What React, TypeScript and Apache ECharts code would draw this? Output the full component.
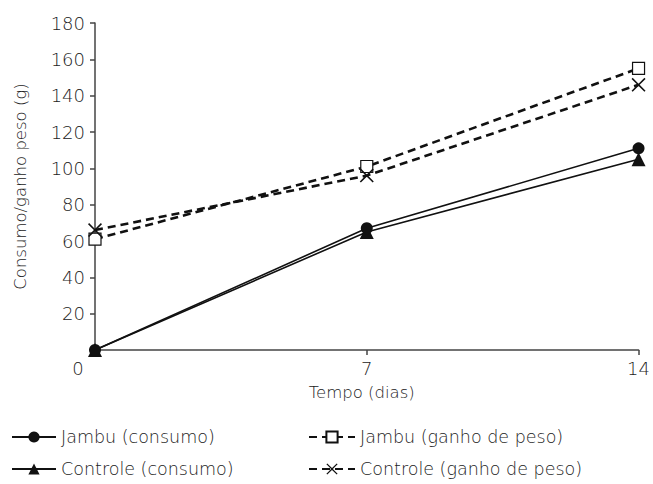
import React, { useEffect, useRef } from "react";
import * as echarts from "echarts";

const days = [0, 7, 14];
const jambuConsumo = [0, 67, 111];
const controleConsumo = [0, 65, 105];
const jambuGanho = [61, 101, 155];
const controleGanho = [66, 96, 146];
const seriesNames = [
  "Jambu (consumo)",
  "Controle (consumo)",
  "Jambu (ganho de peso)",
  "Controle (ganho de peso)",
];
const xTicks = [0, 7, 14];
const yTicks = [0, 20, 40, 60, 80, 100, 120, 140, 160, 180];

const FONT = "DejaVu Sans";
const W = 200;
const TXT = "#222";
const crossPath =
  "path://M0,0.8L0.8,0L5,4.2L9.2,0L10,0.8L5.8,5L10,9.2L9.2,10L5,5.8L0.8,10L0,9.2L4.2,5Z";

function pairs(vals: number[]) {
  return days.map((d, i) => [d, vals[i]]);
}

export default function App() {
  const ref = useRef<HTMLDivElement>(null);
  useEffect(() => {
    const chart = echarts.init(ref.current!, undefined, { renderer: "svg" });
    const solid = { color: "#111", width: 1.6, type: "solid" as const };
    const dashed = { color: "#111", width: 2.6, type: [8, 5] as any };
    const legendText = { fontFamily: FONT, fontWeight: W, fontSize: 17.5, color: TXT, lineHeight: 20 };
    chart.setOption({
      animation: false,
      backgroundColor: "#fff",
      textStyle: { fontFamily: FONT, fontWeight: W },
      grid: { left: 95, right: 13, top: 23, bottom: 134 },
      xAxis: {
        type: "value",
        min: xTicks[0],
        max: xTicks[xTicks.length - 1],
        interval: 7,
        name: "Tempo (dias)",
        nameLocation: "middle",
        nameGap: 34,
        nameTextStyle: { fontFamily: FONT, fontWeight: W, fontSize: 16.5, color: TXT, padding: [0, 10, 0, 0] },
        axisLine: { lineStyle: { color: "#444", width: 1.5 } },
        axisTick: { show: true, length: 5, lineStyle: { color: "#444", width: 1.5 } },
        splitLine: { show: false },
        axisLabel: {
          fontFamily: FONT,
          fontWeight: W,
          fontSize: 18,
          color: TXT,
          margin: 9,
          formatter: (v: number) => (v === 0 ? "{z|0}" : String(v)),
          rich: { z: { fontFamily: FONT, fontWeight: W, fontSize: 18, color: TXT, padding: [0, 34, 0, 0] } },
        },
      },
      yAxis: {
        type: "value",
        min: yTicks[0],
        max: yTicks[yTicks.length - 1],
        interval: 20,
        name: "Consumo/ganho peso (g)",
        nameLocation: "middle",
        nameGap: 66,
        nameTextStyle: { fontFamily: FONT, fontWeight: W, fontSize: 16.5, color: TXT },
        axisLine: { show: true, lineStyle: { color: "#444", width: 1.5 } },
        axisTick: { show: true, length: 5, lineStyle: { color: "#444", width: 1.5 } },
        splitLine: { show: false },
        axisLabel: {
          fontFamily: FONT,
          fontWeight: W,
          fontSize: 18,
          color: TXT,
          margin: 10,
          formatter: (v: number) => (v === 0 ? "" : String(v)),
        },
      },
      legend: [
        {
          data: [seriesNames[0], seriesNames[1]],
          orient: "vertical",
          left: 11,
          top: 427,
          padding: 0,
          itemWidth: 44,
          itemHeight: 14,
          itemGap: 12,
          textStyle: legendText,
        },
        {
          data: [seriesNames[2], seriesNames[3]],
          orient: "vertical",
          left: 308,
          top: 427,
          padding: 0,
          itemWidth: 46,
          itemHeight: 14,
          itemGap: 12,
          textStyle: legendText,
        },
      ],
      series: [
        {
          name: seriesNames[0],
          type: "line",
          data: pairs(jambuConsumo),
          symbol: "circle",
          symbolSize: 12,
          lineStyle: solid,
          itemStyle: { color: "#111" },
          z: 4,
        },
        {
          name: seriesNames[1],
          type: "line",
          data: pairs(controleConsumo),
          symbol: "triangle",
          symbolSize: 14,
          lineStyle: solid,
          itemStyle: { color: "#111" },
          z: 3,
        },
        {
          name: seriesNames[2],
          type: "line",
          data: pairs(jambuGanho),
          symbol: "rect",
          symbolSize: 12,
          lineStyle: dashed,
          itemStyle: { color: "#fff", borderColor: "#111", borderWidth: 1.2 },
          z: 5,
        },
        {
          name: seriesNames[3],
          type: "line",
          data: pairs(controleGanho),
          symbol: crossPath,
          symbolSize: 14,
          lineStyle: dashed,
          itemStyle: { color: "#111" },
          z: 5,
        },
      ],
    });
    return () => chart.dispose();
  }, []);
  return <div ref={ref} style={{ width: 653, height: 484, position: "absolute", left: 0, top: 0 }} />;
}
